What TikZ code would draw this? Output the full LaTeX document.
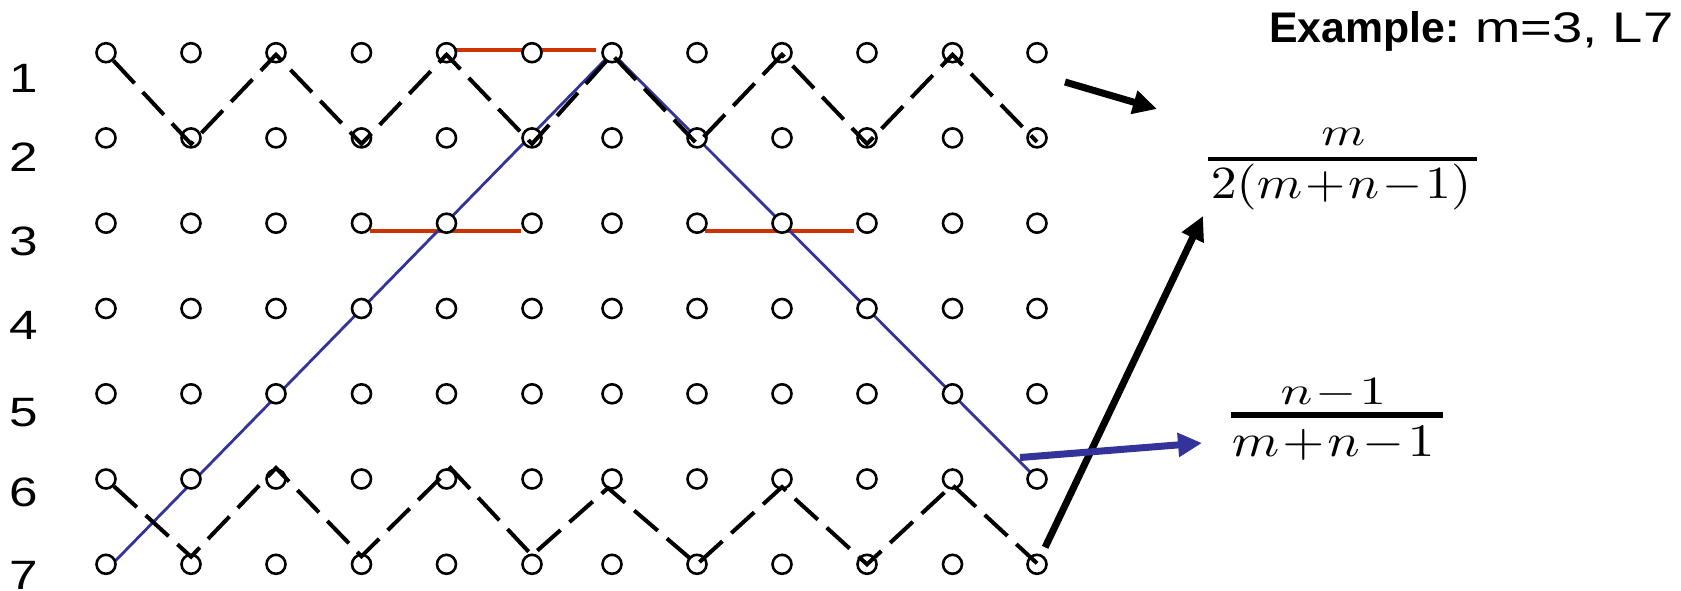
\documentclass[tikz,border=0pt]{standalone}
\usepackage{amsmath}
\usepackage[no-math]{fontspec}
\newfontfamily\arial{Liberation Sans}
\usepackage{graphicx}
\usetikzlibrary{arrows.meta,backgrounds}
\definecolor{pathblue}{HTML}{333399}
\definecolor{pathred}{HTML}{CC3300}
\begin{document}
\begin{tikzpicture}[x=1pt,y=-1pt,
  dot/.style={circle,draw,fill=white,line width=2.6pt,minimum size=19pt,inner sep=0pt},
  zig/.style={line width=4pt,dash pattern=on 31pt off 12pt},
  bluepath/.style={draw=pathblue,line width=2.8pt,line join=round},
  redseg/.style={draw=pathred,line width=4pt},
  bigarrow/.style={line width=7pt,-{Triangle[length=24pt,width=23pt]}},
  rowlabel/.style={font=\arial\fontsize{41}{48}\selectfont,inner sep=0pt},
  mathpart/.style={inner sep=0pt,anchor=base},
  fracbar/.style={line width=#1}]
\useasboundingbox (0,0) rectangle (1681,590);

% grid of circles
\foreach \y [count=\r] in {52.7,137.9,223.2,308.5,393.8,479,564.3} {
  \foreach \x [count=\c] in {106,191,276,361.5,446.5,532,612,697,782,867,952.5,1037} {
    \node[dot] (c\r-\c) at (\x,\y) {};
  }
}

% lines beneath the circles
\begin{pgfonlayer}{background}
\draw[redseg] ([xshift=9pt,yshift=3pt]c1-5.center) -- ([xshift=-16pt,yshift=3pt]c1-7.center);
\draw[redseg] ([xshift=8pt,yshift=-8pt]c3-4.center) -- ([xshift=-11pt,yshift=-8pt]c3-6.center);
\draw[redseg] ([xshift=8pt,yshift=-8pt]c3-8.center) -- ([xshift=-13pt,yshift=-8pt]c3-10.center);
\draw[bluepath] ([xshift=6pt]c7-1.center) -- (c1-7.center) -- (c6-12.center);
\end{pgfonlayer}

% dashed zigzags
\draw[zig] (c1-1) -- ([yshift=-6pt]c2-2.center) -- ([yshift=-2pt]c1-3.center)
  -- ([yshift=-6pt]c2-4.center) -- ([yshift=-2pt]c1-5.center)
  -- ([yshift=-6pt]c2-6.center) -- ([yshift=-2pt]c1-7.center)
  -- ([yshift=-6pt]c2-8.center) -- ([yshift=-2pt]c1-9.center)
  -- ([yshift=-6pt]c2-10.center) -- ([yshift=-2pt]c1-11.center)
  -- ([yshift=-4pt]c2-12.center);
\draw[zig] (c6-1) -- ([yshift=7.6pt]c7-2.center) -- ([yshift=11pt]c6-3.center)
  -- ([yshift=8pt]c7-4.center) -- ([xshift=4pt,yshift=11pt]c6-5.center)
  -- ([yshift=9pt]c7-6.center) -- ([xshift=-4pt,yshift=-9pt]c6-7.center)
  -- (c7-8.center) -- ([yshift=-8pt]c6-9.center)
  -- (c7-10.center) -- ([yshift=-6pt]c6-11.center)
  -- ([yshift=1pt]c7-12.center);

% row labels
\foreach \y [count=\r] in {78,157,241,325,413,492,575} {
  \node[rowlabel] (r\r) at (24,\y) {\scalebox{1.25}[1]{\r}};
}

% title
\node[anchor=base west,inner sep=0pt,font=\arial\fontsize{42.8}{50}\selectfont] (ex) at (1269,42.3)
  {{\bfseries Example:} \scalebox{1.27}[1]{m=3, L7}};

% fraction m / 2(m+n-1)
\node[mathpart] (f1n) at (1343.3,145) {\scalebox{5.0}[4.0]{$m$}};
\node[mathpart] (f1d) at (1341,198.5) {\scalebox{5.17}[4.6]{$2(m\mkern1mu{+}\mkern1mu n\mkern1mu{-}\mkern1mu 1)$}};
\draw[fracbar=4pt] ([xshift=-3pt]f1d.west |- 0,159.3) -- ([xshift=6pt]f1d.east |- 0,159.3);

% fraction (n-1) / (m+n-1)
\node[mathpart] (f2n) at (1333.4,404.3) {\scalebox{5.3}[4.0]{$n\mkern1mu{-}\mkern1mu 1$}};
\node[mathpart] (f2d) at (1333.3,456.7) {\scalebox{5.4}[4.66]{$m\mkern1mu{+}\mkern1mu n\mkern1mu{-}\mkern1mu 1$}};
\draw[fracbar=6.5pt] ([xshift=-1pt]f2d.west |- 0,415) -- ([xshift=8pt]f2d.east |- 0,415);

% arrows
\coordinate (a1s) at (1065,82);
\coordinate (a1e) at (1157,109);
\coordinate (a2e) at (1203,216);
\coordinate (a3s) at (1020,457.5);
\coordinate (a3e) at (1202,443);
\draw[bigarrow] (a1s) -- (a1e);
\draw[bigarrow,shorten <=8pt] (c7-12) -- (a2e);
\draw[bigarrow,pathblue] (a3s) -- (a3e);
\end{tikzpicture}
\end{document}
